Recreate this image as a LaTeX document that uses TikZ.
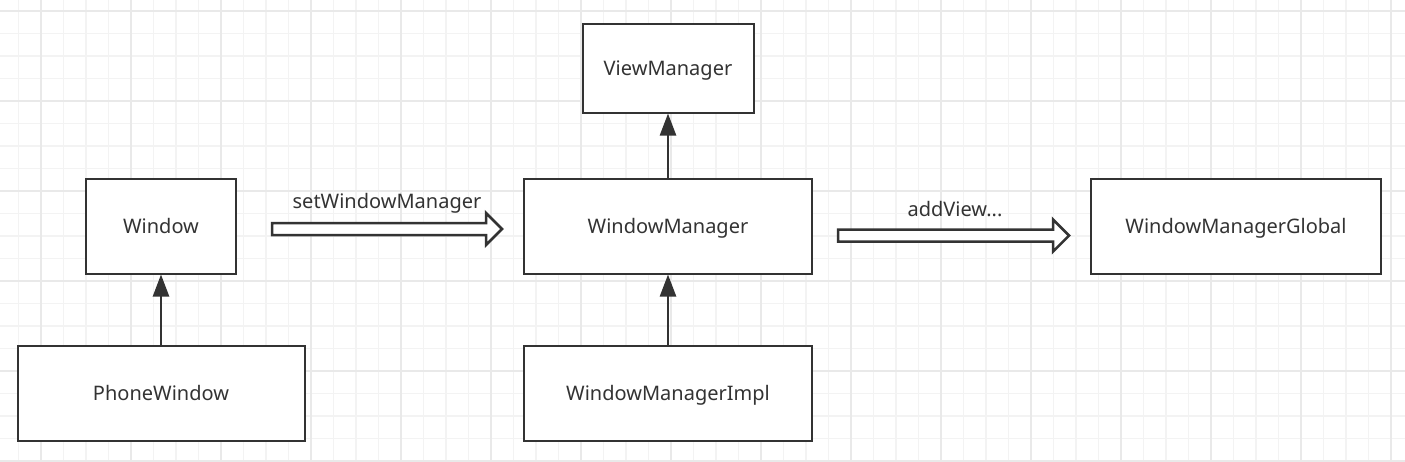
\documentclass[tikz,border=0pt]{standalone}
\usepackage{fontspec}
\setmainfont{Noto Sans}
\usetikzlibrary{positioning, calc, arrows.meta}
\definecolor{linegray}{HTML}{333333}
\definecolor{minorgrid}{HTML}{F3F3F3}
\definecolor{majorgrid}{HTML}{E9E9E9}
\tikzstyle{base} = [minimum height=95pt, text centered, draw=linegray, line width=2pt, fill=white, text=linegray, inner sep=0pt, font=\fontsize{20}{23}\selectfont, text height=14pt, text depth=0pt]
\tikzstyle{cls} = [base, rectangle]
\tikzstyle{inherit} = [line width=2.5pt, draw=linegray, -{Triangle[length=22pt, width=16pt]}]
\tikzstyle{fat} = [line width=2.5pt, draw=linegray, fill=white, line join=miter]
\tikzstyle{lbl} = [text=linegray, inner sep=0pt, font=\fontsize{20}{23}\selectfont, text height=14pt, text depth=0pt]

% hollow block arrow between two coordinates
\newcommand{\blockarrow}[2]{%
  \draw[fat] let \p1=(#1), \p2=(#2) in
    (\x1,\y1+6pt) -- (\x2-16pt,\y1+6pt) -- (\x2-16pt,\y1+16pt) -- (\x2,\y1)
    -- (\x2-16pt,\y1-16pt) -- (\x2-16pt,\y1-6pt) -- (\x1,\y1-6pt) -- cycle;}

\begin{document}
\begin{tikzpicture}[x=1pt, y=-1pt]

% background grid
\fill[white] (0,0) rectangle (1405,461);
\useasboundingbox (0,0) rectangle (1405,461);
\foreach \gx in {-4,18.5,...,1410} \draw[minorgrid, line width=1.4pt] (\gx,0) -- (\gx,461);
\foreach \gy in {11,33.5,...,465} \draw[minorgrid, line width=1.4pt] (0,\gy) -- (1405,\gy);
\foreach \gx in {41,131,...,1410} \draw[majorgrid, line width=1.4pt] (\gx,0) -- (\gx,461);
\foreach \gy in {11,101,...,465} \draw[majorgrid, line width=1.4pt] (0,\gy) -- (1405,\gy);

% classes
\node (WIN) [cls, minimum width=150pt] at (161,226) {Window};
\node (WM) [cls, minimum width=288pt] at (668,226) {WindowManager};
\node (WMG) [cls, minimum width=290pt] at (1236,226) {WindowManagerGlobal};
\node (VM) [cls, minimum width=171pt, minimum height=89pt, above=64pt of WM] {ViewManager};
\node (PW) [cls, minimum width=287pt, below=70pt of WIN] {PhoneWindow};
\node (WMI) [cls, minimum width=288pt, below=70pt of WM] {WindowManagerImpl};

% inheritance / association
\draw [inherit] (PW) -- (WIN);
\draw [inherit] (WMI) -- (WM);
\draw [inherit] (WM) -- (VM);

% calls
\coordinate (A1S) at (272,229);
\coordinate (A1E) at (502,229);
\coordinate (A2S) at (838,235.5);
\coordinate (A2E) at (1069,235.5);
\blockarrow{A1S}{A1E}
\blockarrow{A2S}{A2E}
\node [lbl] at (387,201) {setWindowManager};
\node [lbl] at (955,209.5) {addView...};

\end{tikzpicture}
\end{document}
